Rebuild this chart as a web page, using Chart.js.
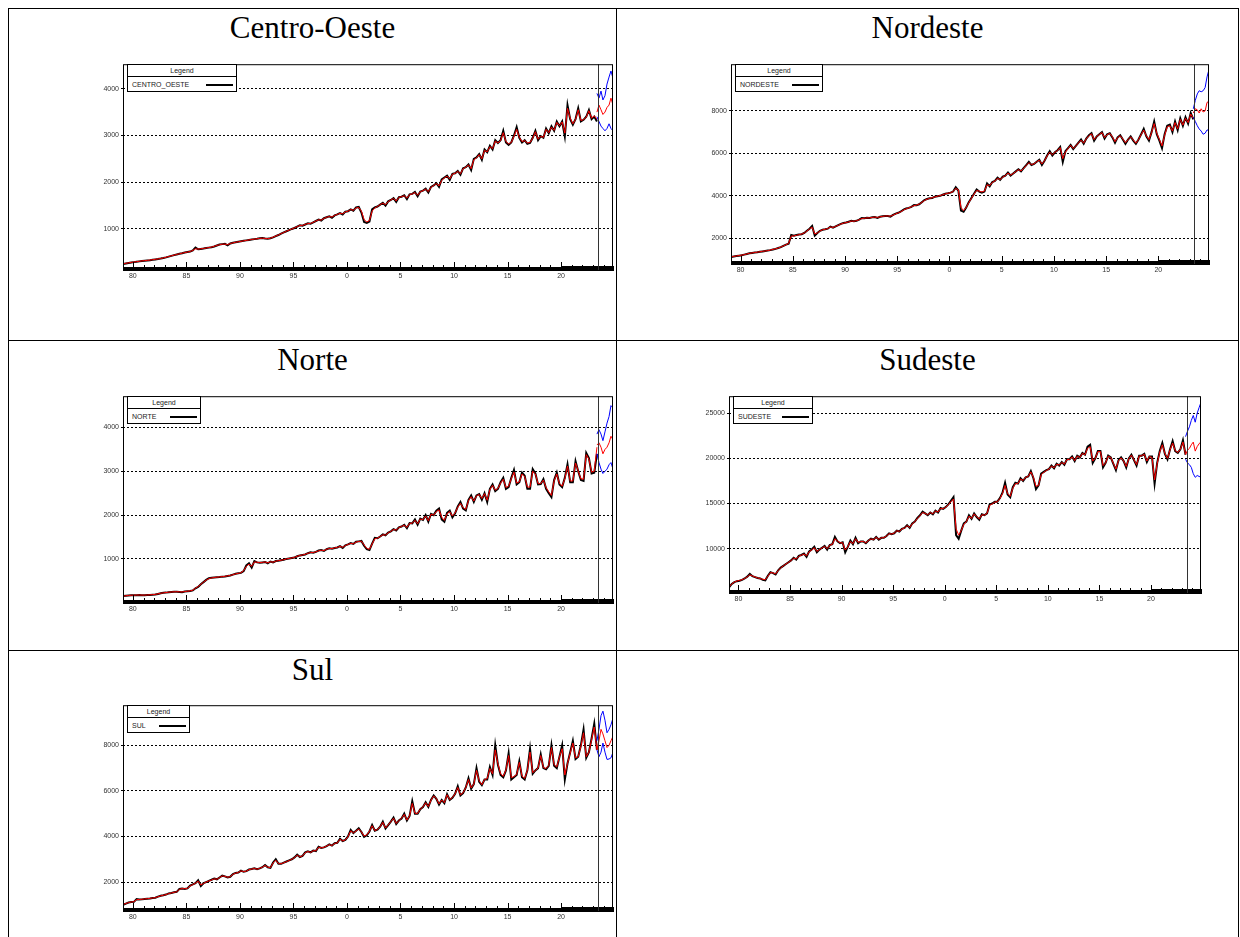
<!DOCTYPE html>
<html>
<head>
<meta charset="utf-8">
<script src="https://cdn.jsdelivr.net/npm/chart.js@4.4.0/dist/chart.umd.min.js"></script>
<style>
  body { margin: 0; background: #fff; width: 1240px; height: 937px; overflow: hidden; position: relative; }
  .ln { position: absolute; background: #000; }
  .ttl { position: absolute; font-family: "Liberation Serif", "Times New Roman", serif; font-size: 31px; line-height: 36px; text-align: center; color: #000; }
  canvas { position: absolute; }
  .leg { position: absolute; border: 1px solid #000; background: #fff; box-sizing: border-box; font-family: "Liberation Sans", Arial, sans-serif; font-size: 7px; color: #222; }
  .leg .lh { height: 11px; line-height: 11px; text-align: center; border-bottom: 1px solid #000; color: #222; }
  .leg .lr { position: relative; height: 15px; line-height: 15px; padding-left: 4px; }
  .leg .lr i { position: absolute; right: 3px; top: 7px; width: 27px; height: 2px; background: #000; }
</style>
</head>
<body>
<script>
// quarterly series, first point at T0
const T0 = 1979.1, STEP = 0.25;
const forecastStart = 2023.45;
const fcTimes = [2023.35, 2023.54, 2023.73, 2023.91, 2024.1, 2024.29, 2024.48, 2024.66, 2024.85];
const yearTicks = [1980, 1985, 1990, 1995, 2000, 2005, 2010, 2015, 2020];

// Centro-Oeste
const coBlack = [250,262,272,282, 290,298,306,314, 320,326,332,340, 348,356,366,378, 392,408,424,440,
  455,468,480,495, 505,515,540,600, 565,572,580,590, 600,610,625,645, 665,675,680,650,
  690,705,715,725, 735,745,755,765, 775,782,790,800, 805,795,790,800, 820,845,870,900,
  925,950,975,1000, 1020,1050,1080,1070, 1095,1120,1110,1140, 1170,1200,1180,1230, 1250,1270,1240,1290,
  1310,1340,1310,1370, 1380,1420,1390,1460, 1470,1350,1150,1130, 1160,1420,1460,1480, 1520,1560,1500,1590,
  1620,1660,1580,1680, 1690,1720,1640,1740, 1750,1790,1700,1800, 1820,1860,1780,1900, 1930,1980,1900,2060,
  2100,2140,2050,2180, 2190,2240,2160,2300, 2320,2380,2260,2500, 2530,2600,2480,2700, 2640,2780,2700,2900,
  2840,2900,3100,2850, 2800,2850,3000,3180, 2950,2850,2900,2820, 2840,2950,3100,2900, 2985,2950,3150,3050,
  3195,3100,3300,3200, 3300,2980,3650,3350, 3230,3350,3580,3300, 3335,3400,3545,3350, 3405,3300];
const coRed = [255,265,275,284, 292,300,308,316, 322,328,335,342, 350,358,368,380, 394,410,425,440,
  455,468,482,495, 505,518,540,575, 570,575,582,592, 602,612,628,648, 662,675,675,665,
  688,702,715,725, 735,745,755,765, 775,782,790,798, 802,798,792,802, 825,848,872,900,
  925,952,975,1000, 1022,1050,1075,1075, 1098,1115,1118,1142, 1170,1195,1190,1225, 1250,1265,1255,1290,
  1310,1335,1325,1365, 1380,1415,1400,1450, 1460,1380,1200,1150, 1180,1380,1450,1480, 1520,1550,1520,1585,
  1620,1650,1600,1675, 1690,1710,1660,1735, 1750,1780,1720,1795, 1820,1850,1800,1890, 1930,1970,1920,2040,
  2090,2130,2070,2170, 2190,2230,2180,2290, 2320,2370,2290,2480, 2520,2590,2500,2680, 2650,2760,2720,2880,
  2840,2890,3060,2870, 2820,2850,2980,3130, 2960,2870,2890,2840, 2850,2940,3080,2920, 2980,2960,3130,3060,
  3180,3110,3280,3210, 3290,3050,3580,3370, 3250,3340,3550,3320, 3340,3390,3530,3370, 3420,3350];
const coFcMid = [3500, 3650, 3550, 3450, 3500, 3600, 3650, 3800, 3650];
const coFcHi = [3900, 3800, 3950, 3760, 3850, 4100, 4250, 4380, 4220];
const coFcLo = [3400, 3300, 3200, 3150, 3100, 3150, 3250, 3150, 3100];
const coYTicks = [1000, 2000, 3000, 4000];

// Nordeste
const neBlack = [1120,1140,1160,1180, 1200,1230,1260,1290, 1310,1330,1340,1360, 1380,1400,1420,1440, 1470,1500,1540,1580,
  1640,1700,1740,2150, 2120,2150,2180,2190, 2250,2350,2450,2580, 2130,2250,2350,2400, 2420,2450,2550,2500,
  2560,2620,2680,2720, 2740,2780,2820,2800, 2820,2880,2950,2940, 2970,2960,2990,3000, 2960,3010,3040,3050,
  3050,3020,3100,3160, 3200,3260,3350,3400, 3430,3480,3560,3550, 3600,3700,3800,3850, 3880,3900,3960,3980,
  4000,4050,4100,4120, 4150,4200,4400,4250, 3300,3250,3450,3700, 3900,4100,4300,4200, 4150,4200,4580,4450,
  4650,4700,4850,4750, 4900,4950,5100,4950, 5050,5150,5250,5150, 5300,5450,5600,5450, 5500,5600,5700,5450,
  5650,5900,6100,5900, 6050,6150,6300,5600, 6100,6250,6400,6200, 6350,6500,6650,6450, 6700,6850,6950,6600,
  6800,6900,7000,6700, 6900,6950,6750,6500, 6750,6850,6650,6450, 6650,6800,6600,6450, 6650,6900,7150,6800,
  6600,7000,7500,6900, 6600,6250,6900,7300, 7350,7000,7500,7100, 7650,7300,7700,7400, 7900,7600];
const neRed = [1130,1145,1165,1185, 1205,1230,1260,1290, 1310,1330,1345,1365, 1385,1400,1420,1445, 1475,1505,1540,1585,
  1640,1695,1760,2100, 2110,2140,2170,2200, 2250,2340,2440,2520, 2200,2250,2340,2400, 2420,2460,2530,2510,
  2560,2610,2670,2710, 2740,2770,2810,2800, 2830,2870,2930,2940, 2960,2960,2980,3000, 2980,3010,3030,3050,
  3050,3040,3090,3150, 3200,3250,3330,3390, 3430,3480,3540,3560, 3610,3690,3780,3840, 3880,3910,3950,3980,
  4010,4050,4090,4120, 4150,4200,4350,4280, 3450,3300,3450,3680, 3880,4080,4250,4220, 4180,4220,4520,4480,
  4630,4700,4820,4770, 4880,4950,5070,4980, 5050,5140,5230,5170, 5290,5430,5560,5470, 5510,5600,5680,5500,
  5650,5880,6060,5930, 6050,6140,6270,5750, 6050,6230,6380,6230, 6350,6490,6620,6480, 6690,6830,6920,6650,
  6800,6890,6980,6740, 6880,6940,6780,6550, 6740,6830,6680,6500, 6650,6780,6630,6480, 6650,6880,7100,6830,
  6650,6980,7400,6950, 6650,6350,6850,7250, 7300,7050,7450,7150, 7600,7330,7650,7450, 7850,7650];
const neFcMid = [7900, 8100, 8050, 7900, 8100, 7950, 8000, 8400, 8450];
const neFcHi = [8100, 8500, 8800, 8950, 8900, 8950, 9100, 9600, 9950];
const neFcLo = [7700, 7500, 7300, 7150, 7050, 6900, 6950, 7100, 7100];
const neYTicks = [2000, 4000, 6000, 8000];

// Norte
const noBlack = [155,160,165,170, 170,172,175,172, 170,175,178,182, 185,200,215,225, 230,240,245,250,
  250,245,240,255, 260,265,280,330, 360,420,470,520, 560,570,575,580, 585,595,600,610,
  620,640,660,670, 680,720,850,900, 800,950,920,910, 920,930,900,940, 920,950,960,970,
  980,1000,1010,1020, 1030,1060,1080,1090, 1100,1130,1150,1140, 1160,1190,1200,1180, 1220,1240,1230,1250,
  1260,1290,1250,1310, 1330,1360,1340,1390, 1400,1410,1300,1220, 1200,1350,1480,1470, 1510,1560,1540,1600,
  1630,1680,1650,1720, 1740,1780,1700,1820, 1810,1900,1780,1920, 1890,2000,1850,2030, 2000,2100,2150,1900,
  1850,2050,2100,1950, 2040,2200,2300,2150, 2110,2350,2450,2300, 2450,2480,2350,2500, 2300,2600,2700,2550,
  2600,2750,2850,2600, 2640,2850,3030,2700, 2750,2970,2900,2600, 2600,3050,2950,2700, 2710,2820,2600,2500,
  2410,2800,2970,2700, 2640,2850,3160,2750, 2750,3230,3000,2800, 2780,3420,3300,2950, 2970,3400];
const noRed = [150,158,165,170, 172,174,176,174, 173,176,180,185, 190,202,215,225, 232,240,245,248,
  250,248,245,255, 262,270,285,330, 370,420,470,515, 550,565,575,582, 588,595,602,612,
  622,640,658,670, 685,730,830,880, 830,930,925,915, 920,930,910,935, 925,948,960,970,
  982,1000,1010,1022, 1035,1060,1078,1090, 1105,1128,1145,1145, 1162,1185,1198,1190, 1220,1238,1235,1252,
  1262,1285,1265,1305, 1330,1355,1345,1385, 1398,1405,1320,1240, 1220,1340,1460,1475, 1510,1550,1545,1595,
  1630,1670,1660,1715, 1740,1770,1720,1810, 1815,1880,1800,1910, 1895,1980,1870,2020, 2000,2080,2120,1950,
  1880,2030,2080,1980, 2050,2180,2270,2170, 2130,2330,2420,2320, 2440,2470,2380,2490, 2340,2580,2680,2570,
  2610,2730,2820,2630, 2660,2830,2980,2730, 2760,2940,2880,2640, 2640,3000,2940,2720, 2720,2800,2630,2530,
  2450,2780,2940,2720, 2660,2830,3120,2780, 2780,3190,3010,2830, 2820,3380,3280,2980, 3000,3550];
const noFcMid = [3600, 3650, 3550, 3400, 3500, 3550, 3650, 3800, 3720];
const noFcHi = [3850, 3950, 3850, 3700, 3900, 4100, 4250, 4500, 4450];
const noFcLo = [3400, 3200, 3050, 2950, 3000, 3050, 3150, 3200, 3050];
const noYTicks = [1000, 2000, 3000, 4000];

// Sudeste
const seBlack = [5750,6100,6300,6400, 6450,6550,6700,6900, 7200,6950,6850,6750, 6700,6550,6500,7000, 7400,7300,7150,7600,
  7900,8100,8300,8500, 8700,9000,8800,9200, 9300,9450,9100,9700, 9900,10200,9600,9900, 10100,10300,9900,10400,
  10500,11300,10800,10600, 10700,9600,10200,10900, 10500,11200,10600,10800, 10800,10600,10900,11100, 11000,11300,11000,11200,
  11200,11400,11700,11600, 11700,12000,11900,12200, 12300,12600,12300,12800, 13000,13400,13700,14100, 13900,13700,14000,13800,
  14200,14000,14500,14400, 14600,14900,15300,15700, 11500,11100,12000,12800, 13000,13700,13300,13900, 13500,13200,13800,13700,
  13900,14900,15000,15200, 15200,15600,16200,17300, 16000,15700,16800,17300, 17200,17800,17500,17900, 18000,18600,17800,16600,
  17000,18300,18500,18700, 18800,19200,18900,19400, 19200,19600,19300,19900, 19900,20200,19700,20300, 20100,20600,20400,21300,
  21500,19500,20000,20800, 20800,19000,19500,20300, 20100,19400,18700,19800, 20100,19700,19000,20000, 20400,19800,19200,20300,
  20300,20500,19600,20200, 20200,17200,19500,20800, 21700,20500,19900,21000, 21900,20800,20600,21000, 22000,20400];
const seRed = [5800,6100,6300,6420, 6480,6560,6700,6880, 7100,6980,6870,6760, 6700,6600,6560,6950, 7350,7320,7200,7580,
  7880,8100,8300,8480, 8680,8950,8850,9150, 9280,9400,9200,9650, 9850,10100,9700,9900, 10080,10250,10000,10380,
  10480,11100,10850,10650, 10650,9850,10200,10800, 10550,11100,10700,10800, 10800,10650,10900,11080, 11000,11250,11050,11200,
  11220,11400,11650,11620, 11720,11980,11920,12180, 12280,12550,12350,12750, 12980,13350,13650,14000, 13900,13750,14000,13850,
  14180,14050,14450,14420, 14600,14850,15200,15500, 12200,11500,12000,12700, 13000,13600,13350,13850, 13550,13300,13750,13720,
  13900,14800,14950,15150, 15200,15550,16100,17000, 16100,15800,16700,17200, 17200,17700,17550,17900, 18000,18500,17900,16900,
  17000,18200,18450,18650, 18800,19150,18950,19350, 19250,19550,19350,19850, 19900,20150,19750,20250, 20100,20550,20400,21100,
  21300,19700,20000,20750, 20750,19200,19500,20250, 20100,19450,18800,19750, 20050,19700,19100,19950, 20350,19850,19300,20250,
  20300,20450,19700,20200, 20100,17600,19400,20700, 21500,20550,20000,20950, 21700,20850,20650,21000, 21800,20450];
const seFcMid = [20400, 20900, 21100, 21500, 21800, 20800, 21300, 21600, 21850];
const seFcHi = [22400, 23000, 23500, 24200, 24750, 24000, 25000, 25600, 26200];
const seFcLo = [19900, 19500, 19300, 19000, 18300, 17900, 18100, 18000, 17900];
const seYTicks = [10000, 15000, 20000, 25000];

// Sul
const suBlack = [1000,1050,1100,1120, 1130,1250,1230,1240, 1260,1270,1280,1300, 1310,1360,1400,1420, 1450,1500,1520,1550,
  1570,1700,1720,1700, 1720,1850,1900,1950, 2080,1830,1950,2000, 2050,2100,2150,2120, 2200,2280,2250,2200,
  2230,2350,2400,2420, 2500,2450,2480,2550, 2570,2600,2560,2600, 2650,2750,2650,2620, 2860,3000,2800,2800,
  2850,2900,2950,3000, 3080,3200,3100,3150, 3300,3350,3300,3380, 3360,3550,3500,3520, 3580,3650,3600,3700,
  3720,3900,3800,3850, 4000,4290,4150,4250, 4360,4200,3980,4050, 4220,4500,4250,4300, 4430,4650,4350,4500,
  4650,4830,4550,4700, 4790,5000,4700,4900, 5550,5000,5000,5200, 5290,5500,5300,5600, 5800,5650,5400,5600,
  5460,5850,5600,5700, 5870,6200,5800,5900, 6150,6550,6100,6300, 7000,6400,6250,6500, 6500,7050,6700,8000,
  7150,6700,6600,6900, 7650,6500,6600,6700, 7300,6600,6500,6900, 7850,6750,6900,7000, 7600,7000,6950,7100,
  8000,7100,7000,7500, 8000,6500,7200,7700, 8200,7400,7500,8000, 8700,7450,7700,8300, 8950,7800];
const suRed = [1020,1060,1100,1125, 1140,1230,1235,1245, 1260,1270,1285,1300, 1315,1355,1395,1420, 1450,1495,1520,1550,
  1575,1680,1715,1705, 1725,1830,1890,1950, 2040,1870,1940,2000, 2050,2090,2140,2125, 2195,2270,2250,2210,
  2235,2340,2390,2420, 2490,2460,2480,2545, 2570,2595,2565,2605, 2650,2730,2655,2630, 2840,2960,2810,2805,
  2850,2895,2945,3000, 3075,3180,3105,3150, 3290,3340,3300,3375, 3370,3530,3500,3525, 3580,3640,3605,3695,
  3720,3880,3805,3850, 3990,4250,4160,4240, 4330,4200,4020,4070, 4230,4470,4260,4310, 4430,4620,4370,4510,
  4650,4800,4570,4700, 4800,4970,4720,4910, 5450,5020,5010,5200, 5300,5480,5310,5590, 5780,5660,5430,5600,
  5480,5830,5620,5710, 5870,6150,5830,5920, 6150,6500,6130,6300, 6900,6450,6270,6500, 6540,6980,6750,7800,
  7200,6750,6640,6920, 7550,6580,6630,6720, 7250,6650,6550,6900, 7700,6800,6900,7000, 7550,7020,6980,7120,
  7900,7150,7050,7500, 7850,6700,7200,7650, 8100,7450,7500,7950, 8550,7500,7700,8250, 8800,7800];
const suFcMid = [7800, 8200, 8700, 8500, 8200, 7900, 8000, 8200, 8400];
const suFcHi = [8200, 8700, 9300, 9500, 9100, 8550, 8700, 8900, 9200];
const suFcLo = [7800, 7500, 7700, 8100, 7700, 7380, 7400, 7450, 7700];
const suYTicks = [2000, 4000, 6000, 8000];

const panels = [
  { title: 'Centro-Oeste', label: 'CENTRO_OESTE', black: coBlack, red: coRed, mid: coFcMid, hi: coFcHi, lo: coFcLo, yTicks: coYTicks,
    yMin: 100, yMax: 4525, frame: [123, 60, 490, 211], legW: 110, titleX: [8, 617], titleTop: 10 },
  { title: 'Nordeste', label: 'NORDESTE', black: neBlack, red: neRed, mid: neFcMid, hi: neFcHi, lo: neFcLo, yTicks: neYTicks,
    yMin: 740, yMax: 10200, frame: [731, 60, 478, 205], legW: 88, titleX: [617, 1238], titleTop: 10 },
  { title: 'Norte', label: 'NORTE', black: noBlack, red: noRed, mid: noFcMid, hi: noFcHi, lo: noFcLo, yTicks: noYTicks,
    yMin: -30, yMax: 4715, frame: [123, 392, 490, 212], legW: 74, titleX: [8, 617], titleTop: 342 },
  { title: 'Sudeste', label: 'SUDESTE', black: seBlack, red: seRed, mid: seFcMid, hi: seFcHi, lo: seFcLo, yTicks: seYTicks,
    yMin: 4980, yMax: 26880, frame: [729, 392, 472, 202], legW: 80, titleX: [617, 1238], titleTop: 342 },
  { title: 'Sul', label: 'SUL', black: suBlack, red: suRed, mid: suFcMid, hi: suFcHi, lo: suFcLo, yTicks: suYTicks,
    yMin: 686, yMax: 9760, frame: [123, 701, 490, 211], legW: 63, titleX: [8, 617], titleTop: 652 }
];

// table lines
function line(x, y, w, h) {
  const d = document.createElement('div');
  d.className = 'ln';
  Object.assign(d.style, { left: x + 'px', top: y + 'px', width: w + 'px', height: h + 'px' });
  document.body.appendChild(d);
}
line(8, 8, 1231, 1);
line(8, 340, 1231, 1);
line(8, 650, 1231, 1);
line(8, 8, 1, 940);
line(616, 8, 1, 940);
line(1238, 8, 1, 940);

const frameTicks = {
  id: 'frameTicks',
  afterDatasetsDraw(chart) {
    const { ctx, chartArea: a, scales: { x } } = chart;
    ctx.save();
    ctx.lineWidth = 1;
    ctx.strokeStyle = '#000';
    ctx.beginPath();
    const first = Math.ceil(x.min * 12), last = Math.floor(x.max * 12);
    for (let m = first; m <= last; m++) {
      const t = m / 12;
      const px = Math.round(x.getPixelForValue(t)) + 0.5;
      let len = t >= 2020 ? 5 : 4;
      if (m % 12 === 0) len = (m / 12) % 5 === 0 ? 9 : 6;
      ctx.moveTo(px, a.bottom);
      ctx.lineTo(px, a.bottom - len);
    }
    ctx.stroke();
    const vx = Math.round(x.getPixelForValue(forecastStart)) + 0.5;
    ctx.strokeStyle = '#333';
    ctx.beginPath();
    ctx.moveTo(vx, a.top);
    ctx.lineTo(vx, a.bottom);
    ctx.stroke();
    ctx.strokeStyle = '#000';
    ctx.strokeRect(a.left + 0.5, a.top + 0.5, a.right - a.left - 1, a.bottom - a.top - 1);
    ctx.restore();
  }
};

const L = 30, T = 2, R = 3, B = 14;

panels.forEach(p => {
  const [fx, fy, fw, fh] = p.frame;

  const t = document.createElement('div');
  t.className = 'ttl';
  t.textContent = p.title;
  Object.assign(t.style, { left: p.titleX[0] + 'px', width: (p.titleX[1] - p.titleX[0]) + 'px', top: p.titleTop + 'px' });
  document.body.appendChild(t);

  const cv = document.createElement('canvas');
  cv.width = fw + L + R;
  cv.height = fh + T + B;
  Object.assign(cv.style, { left: (fx - L) + 'px', top: (fy - T) + 'px', width: cv.width + 'px', height: cv.height + 'px' });
  document.body.appendChild(cv);

  const series = arr => arr.map((v, i) => ({ x: T0 + i * STEP, y: v }));
  const fc = arr => arr.map((v, i) => ({ x: fcTimes[i], y: v }));

  new Chart(cv, {
    type: 'line',
    data: {
      datasets: [
        { data: fc(p.hi), borderColor: '#0000ff', borderWidth: 1 },
        { data: fc(p.lo), borderColor: '#0000ff', borderWidth: 1 },
        { data: fc(p.mid), borderColor: '#ff0000', borderWidth: 1 },
        { data: series(p.red), borderColor: '#ff0000', borderWidth: 1 },
        { data: series(p.black), borderColor: '#000000', borderWidth: 2 }
      ]
    },
    options: {
      responsive: false,
      animation: false,
      devicePixelRatio: 1,
      layout: { padding: { top: T, right: R, left: 0, bottom: 0 }, autoPadding: false },
      elements: { point: { radius: 0 }, line: { tension: 0 } },
      plugins: { legend: { display: false }, tooltip: { enabled: false } },
      scales: {
        x: {
          type: 'linear', min: 1979.08, max: 2024.85,
          grid: { display: false, drawTicks: false },
          border: { display: false },
          afterBuildTicks: s => { s.ticks = yearTicks.map(v => ({ value: v })); },
          afterFit: s => { s.height = B; },
          ticks: {
            padding: 1, maxRotation: 0, autoSkip: false, color: '#333',
            font: { family: 'Liberation Sans', size: 7 },
            callback: v => String(v % 100)
          }
        },
        y: {
          min: p.yMin, max: p.yMax,
          grid: { color: '#000', lineWidth: 1, drawTicks: true, tickLength: 2, tickColor: '#000' },
          border: { display: false, dash: [2, 2] },
          afterBuildTicks: s => { s.ticks = p.yTicks.map(v => ({ value: v })); },
          afterFit: s => { s.width = L; },
          ticks: {
            padding: 2, color: '#333',
            font: { family: 'Liberation Sans', size: 7 },
            callback: v => String(v)
          }
        }
      }
    },
    plugins: [frameTicks]
  });

  const lg = document.createElement('div');
  lg.className = 'leg';
  Object.assign(lg.style, { left: (fx + 4) + 'px', top: (fy + 4) + 'px', width: p.legW + 'px', height: '28px' });
  lg.innerHTML = '<div class="lh">Legend</div><div class="lr"><span></span><i></i></div>';
  lg.querySelector('span').textContent = p.label;
  document.body.appendChild(lg);
});
</script>
</body>
</html>
